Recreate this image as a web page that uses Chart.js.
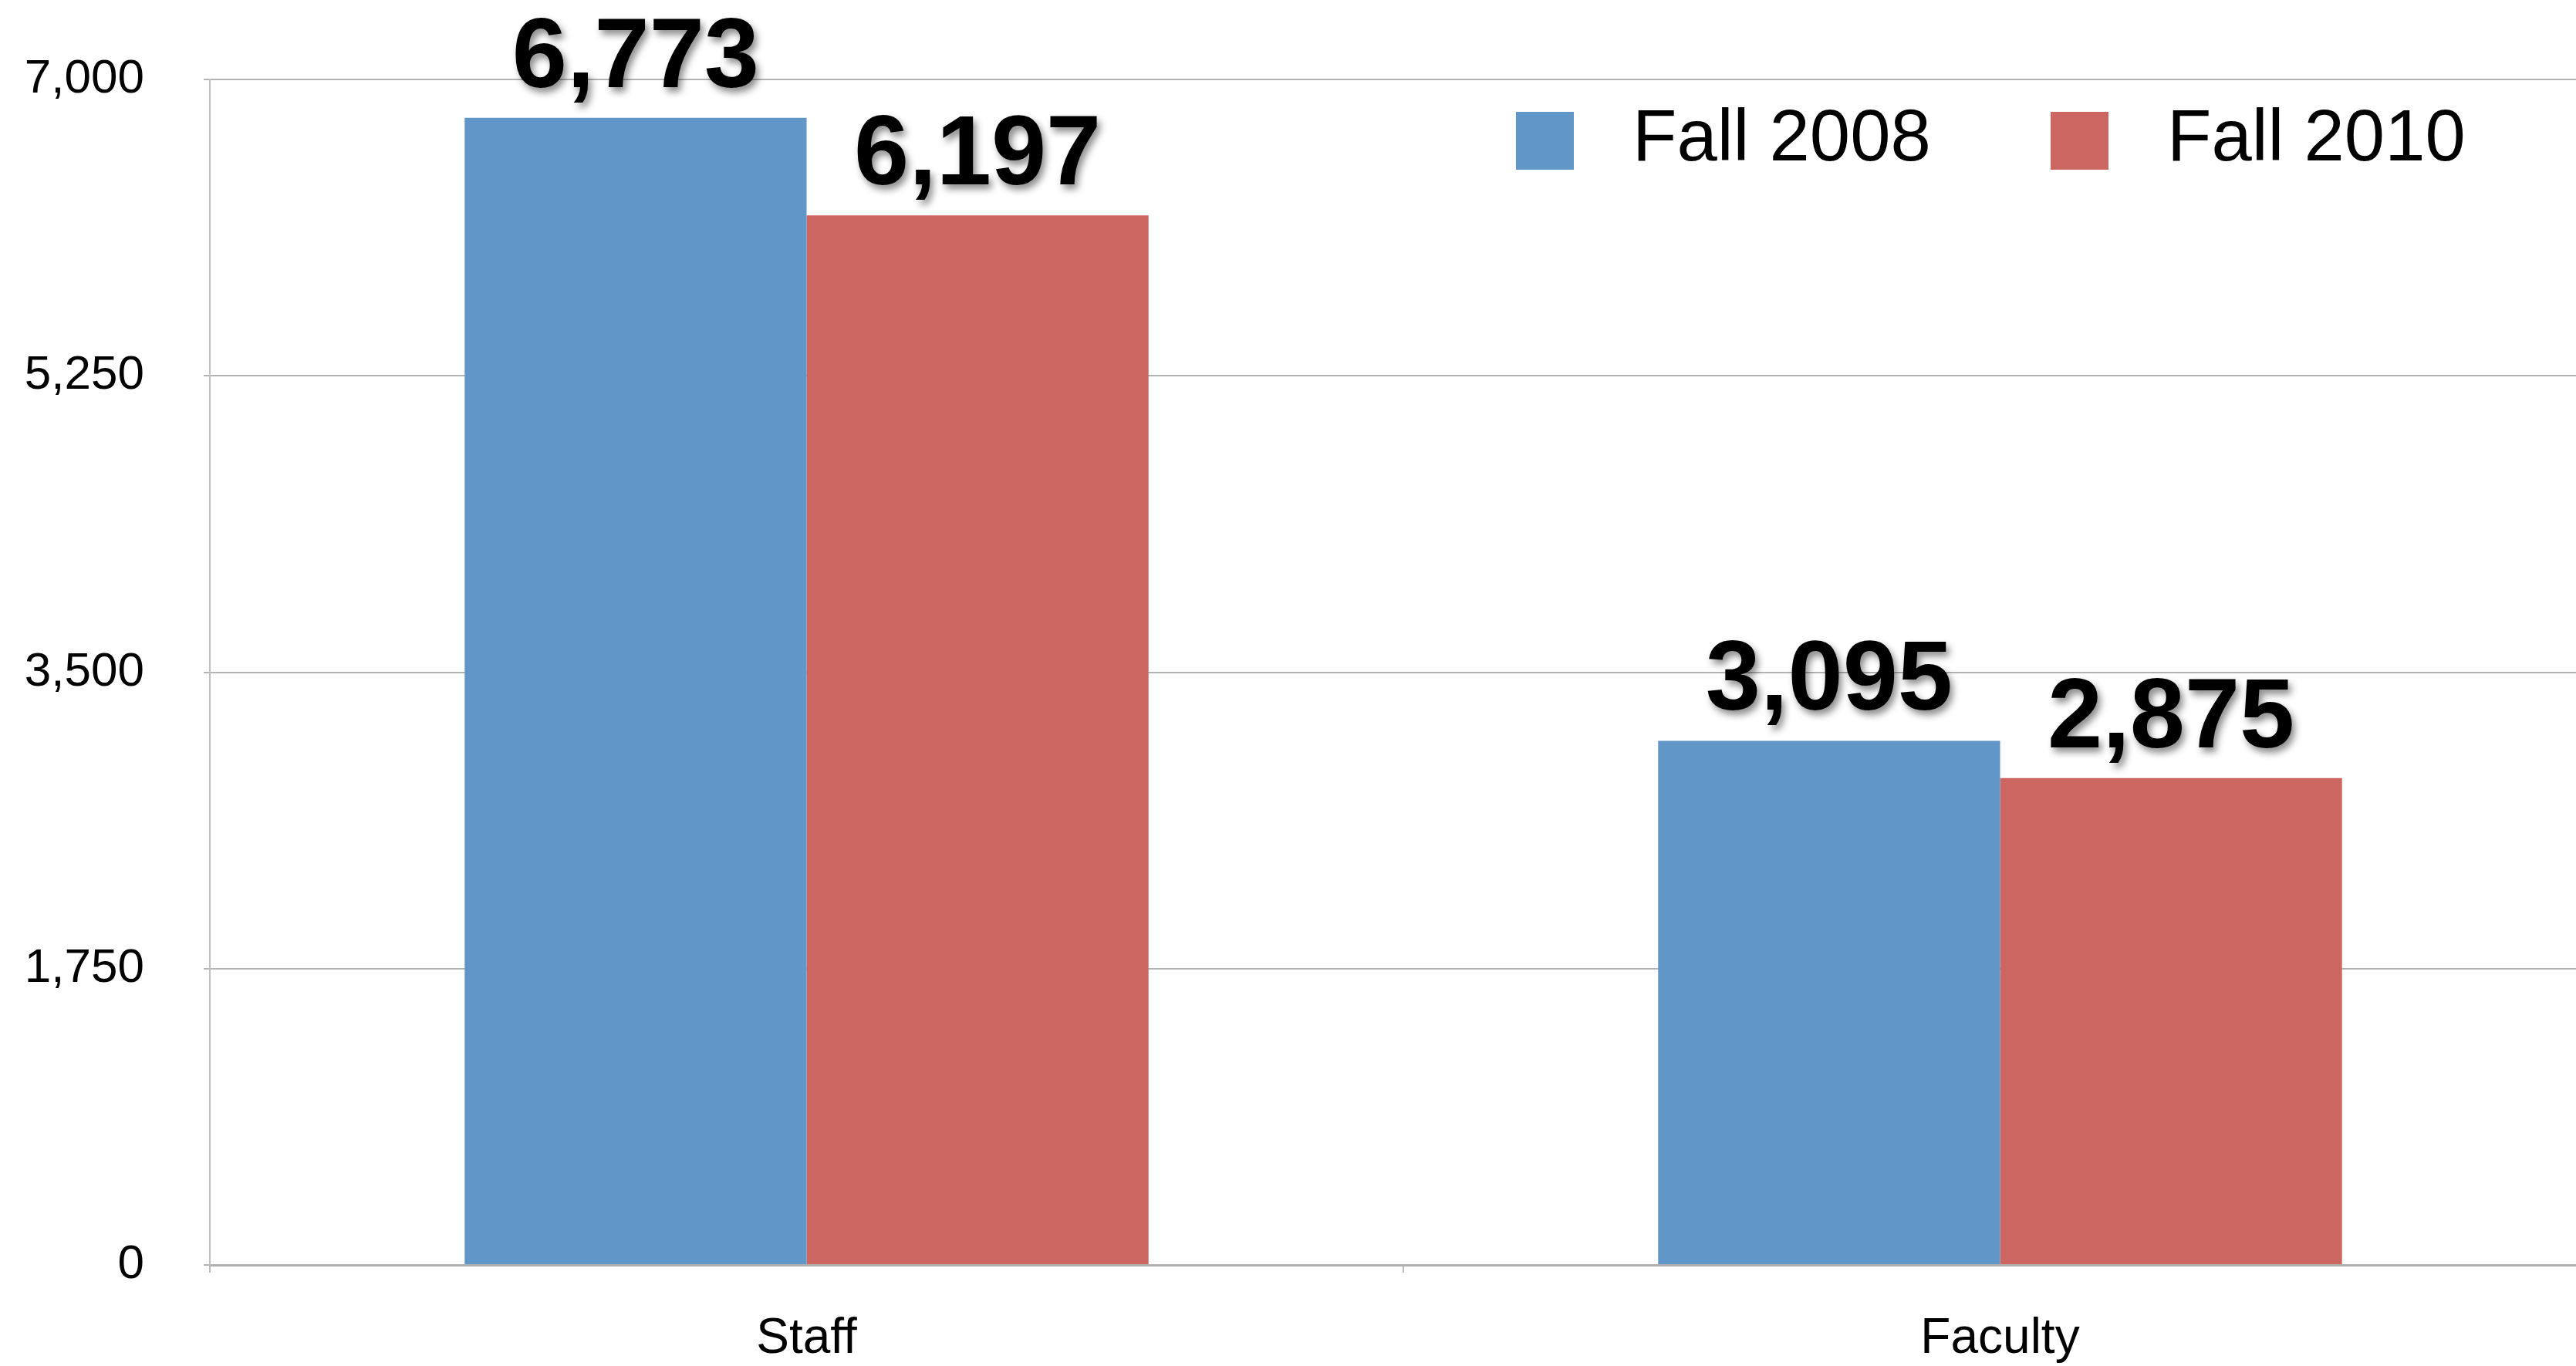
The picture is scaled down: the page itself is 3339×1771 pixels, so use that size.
<!DOCTYPE html>
<html>
<head>
<meta charset="utf-8">
<script src="https://cdn.jsdelivr.net/npm/chart.js@4.4.0/dist/chart.umd.min.js"></script>
<style>
  html, body { margin: 0; padding: 0; background: #fff; overflow: hidden; }
  #wrap { width: 3366px; height: 1771px; position: relative; }
</style>
</head>
<body>
<div id="wrap"><canvas id="myChart"></canvas></div>
<script>
const categorias = ["Staff", "Faculty"];
const series = ["Fall 2008", "Fall 2010"];
const fall2008 = [6773, 3095];
const fall2010 = [6197, 2875];
const colores = ["#6096c8", "#cc6661"];
const yMax = 7000;
const yPaso = 1750;

const fuente = "'Liberation Sans', Arial, Helvetica, sans-serif";

function formato(v) {
    return v.toLocaleString('en-US');
}

// numeros grandes encima de cada barra, con sombra
const etiquetas = {
    id: 'etiquetas',
    afterDatasetsDraw(chart) {
        const ctx = chart.ctx;
        ctx.save();
        ctx.font = "bold 128px " + fuente;
        ctx.textAlign = 'center';
        ctx.textBaseline = 'alphabetic';
        ctx.fillStyle = '#000';
        ctx.shadowColor = 'rgba(0,0,0,0.45)';
        ctx.shadowBlur = 10;
        ctx.shadowOffsetX = 4;
        ctx.shadowOffsetY = 6;
        chart.data.datasets.forEach((ds, i) => {
            const meta = chart.getDatasetMeta(i);
            meta.data.forEach((bar, j) => {
                ctx.fillText(formato(ds.data[j]), bar.x, bar.y - 40);
            });
        });
        ctx.restore();
    }
};

// leyenda dentro del area del grafico, arriba a la derecha
const leyenda = {
    id: 'leyenda',
    afterDraw(chart) {
        const ctx = chart.ctx;
        const xs = [1965, 2658];
        ctx.save();
        ctx.font = "94px " + fuente;
        ctx.textAlign = 'left';
        ctx.textBaseline = 'alphabetic';
        chart.data.datasets.forEach((ds, i) => {
            ctx.fillStyle = ds.backgroundColor;
            ctx.fillRect(xs[i], 145, 75, 75);
            ctx.fillStyle = '#000';
            ctx.fillText(ds.label, xs[i] + 151, 208);
        });
        ctx.restore();
    }
};

const ctx = document.getElementById('myChart').getContext('2d');
const myChart = new Chart(ctx, {
    type: 'bar',
    data: {
        labels: categorias,
        datasets: [{
            label: series[0],
            data: fall2008,
            backgroundColor: colores[0],
            borderWidth: 0
        }, {
            label: series[1],
            data: fall2010,
            backgroundColor: colores[1],
            borderWidth: 0
        }]
    },
    options: {
        responsive: true,
        maintainAspectRatio: false,
        animation: false,
        layout: {
            padding: { top: 103, left: 0, right: 0, bottom: 0 }
        },
        datasets: {
            bar: {
                categoryPercentage: 0.573,
                barPercentage: 1.0
            }
        },
        scales: {
            x: {
                afterFit(s) { s.height = 131; },
                grid: {
                    drawOnChartArea: false,
                    drawTicks: true,
                    tickLength: 10,
                    color: '#bdbdbd',
                    lineWidth: 2
                },
                border: { color: '#b0b0b0', width: 3 },
                ticks: {
                    color: '#000',
                    padding: 48,
                    font: { family: fuente, size: 64 }
                }
            },
            y: {
                min: 0,
                max: yMax,
                afterFit(s) {
                    s.width = 272;
                    s.paddingTop = 40;
                    s.paddingBottom = 40;
                },
                grid: {
                    color: '#b3b3b3',
                    lineWidth: 2,
                    tickLength: 8
                },
                border: { color: '#c0c0c0', width: 2 },
                ticks: {
                    stepSize: yPaso,
                    color: '#000',
                    padding: 77,
                    font: { family: fuente, size: 62 },
                    callback: v => formato(v)
                }
            }
        },
        plugins: {
            legend: { display: false },
            tooltip: { enabled: false },
            title: { display: false }
        }
    },
    plugins: [etiquetas, leyenda]
});
</script>
</body>
</html>
